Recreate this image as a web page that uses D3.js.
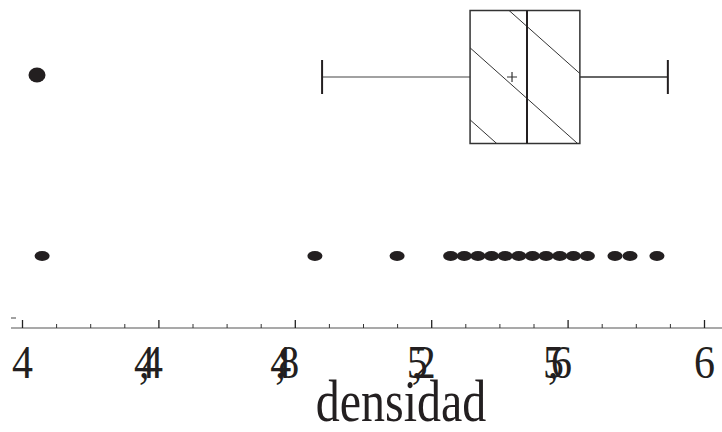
<!DOCTYPE html>
<html>
<head>
<meta charset="utf-8">
<script src="https://cdn.jsdelivr.net/npm/d3@7"></script>
<style>
  body { margin: 0; background: #fff; }
  svg { display: block; }
</style>
</head>
<body>
<svg width="722" height="432"></svg>
<script>
// valores
const rows = ["caja", "puntos"];
const boxSummary = [4.88, 5.314, 5.481, 5.636, 5.894]; // bigote inf, Q1, mediana, Q3, bigote sup
const meanValue = [5.437];
const outliers = [4.044];
const observations = [4.059, 4.859, 5.10, 5.257, 5.297, 5.337, 5.377, 5.417, 5.457, 5.497, 5.537, 5.577, 5.617, 5.658, 5.739, 5.783, 5.862];
const majorTicks = [4, 4.4, 4.8, 5.2, 5.6, 6];
const minorTicks = [4.1, 4.2, 4.3, 4.5, 4.6, 4.7, 4.9, 5.0, 5.1, 5.3, 5.4, 5.5, 5.7, 5.8, 5.9];

const ink = "#231f20";
const serif = "'Liberation Serif', 'Times New Roman', serif";
const svg = d3.select("svg");

const x = d3.scaleLinear().domain([4, 6]).range([22, 704]);
const y = d3.scalePoint().domain(rows).range([77, 256]);
const boxH = 133;

// eje x
const axisY = 328;
svg.append("line")
  .attr("x1", 11).attr("x2", 722)
  .attr("y1", axisY).attr("y2", axisY)
  .attr("stroke", "#555").attr("stroke-width", 1.2);

svg.append("line") // marca suelta del eje y
  .attr("x1", 11).attr("x2", 16)
  .attr("y1", 318).attr("y2", 318)
  .attr("stroke", "#444").attr("stroke-width", 1);

const minorAxis = d3.axisBottom(x).tickValues(minorTicks).tickSize(-4).tickFormat("");
const gMinor = svg.append("g").attr("transform", `translate(0,${axisY})`).call(minorAxis);
gMinor.select(".domain").remove();
gMinor.selectAll(".tick line").attr("stroke", "#333");

const majorAxis = d3.axisBottom(x).tickValues(majorTicks).tickSize(-8).tickFormat("");
const gMajor = svg.append("g").attr("transform", `translate(0,${axisY})`).call(majorAxis);
gMajor.select(".domain").remove();
gMajor.selectAll(".tick line").attr("stroke", "#222").attr("stroke-width", 1.3);

// las etiquetas con coma quedan encimadas como en el original
gMajor.selectAll(".tick").append("text")
  .attr("fill", ink)
  .attr("transform", "translate(0,50) scale(1,1.12)")
  .style("font-family", serif)
  .style("font-size", "42px")
  .each(function(d) {
    const t = d3.select(this);
    if (Number.isInteger(d)) {
      t.attr("text-anchor", "middle").attr("x", 0).text(String(d));
    } else {
      const [a, b] = String(d).split(".");
      t.attr("text-anchor", "start");
      t.append("tspan").attr("x", -25).text(a);
      t.append("tspan").attr("x", -20).text(",");
      t.append("tspan").attr("x", -17).text(b);
    }
  });

svg.append("text")
  .attr("transform", "translate(401,421) scale(1,1.22)")
  .attr("text-anchor", "middle")
  .attr("fill", ink)
  .style("font-family", serif)
  .style("font-size", "48px")
  .text("densidad");

// diagrama de caja
const cy = y("caja");
const [wLo, q1, med, q3, wHi] = boxSummary;
const g = svg.append("g");

g.append("line")
  .attr("x1", x(wLo)).attr("x2", x(q1))
  .attr("y1", cy).attr("y2", cy)
  .attr("stroke", "#444").attr("stroke-width", 1.2);
g.append("line")
  .attr("x1", x(q3)).attr("x2", x(wHi))
  .attr("y1", cy).attr("y2", cy)
  .attr("stroke", "#333").attr("stroke-width", 1.5);
g.selectAll("line.cap")
  .data([wLo, wHi])
  .enter().append("line")
  .attr("class", "cap")
  .attr("x1", d => x(d)).attr("x2", d => x(d))
  .attr("y1", cy - 17).attr("y2", cy + 17)
  .attr("stroke", ink).attr("stroke-width", 2);

// rayado
svg.append("clipPath").attr("id", "clipBox")
  .append("rect")
  .attr("x", x(q1)).attr("y", cy - boxH / 2)
  .attr("width", x(q3) - x(q1)).attr("height", boxH);
const hatch = g.append("g").attr("clip-path", "url(#clipBox)");
const slope = 0.89, gap = 72, startY = cy - boxH / 2 - 34.7;
for (let k = -1; k < 5; k++) {
  const y0 = startY + k * gap;
  hatch.append("line")
    .attr("x1", x(q1)).attr("y1", y0)
    .attr("x2", x(q1) + 200).attr("y2", y0 + 200 * slope)
    .attr("stroke", "#333").attr("stroke-width", 1);
}

g.append("rect")
  .attr("x", x(q1)).attr("y", cy - boxH / 2)
  .attr("width", x(q3) - x(q1)).attr("height", boxH)
  .attr("fill", "none").attr("stroke", "#333").attr("stroke-width", 1.5);

g.append("line")
  .attr("x1", x(med)).attr("x2", x(med))
  .attr("y1", cy - boxH / 2).attr("y2", cy + boxH / 2)
  .attr("stroke", ink).attr("stroke-width", 2);

g.selectAll("path.mean")
  .data(meanValue)
  .enter().append("path")
  .attr("class", "mean")
  .attr("d", d => `M${x(d) - 5},${cy}H${x(d) + 5}M${x(d)},${cy - 5}V${cy + 5}`)
  .attr("stroke", "#333").attr("stroke-width", 1.2);

g.selectAll("ellipse.outlier")
  .data(outliers)
  .enter().append("ellipse")
  .attr("class", "outlier")
  .attr("cx", d => x(d)).attr("cy", cy - 2)
  .attr("rx", 8.5).attr("ry", 7.5)
  .attr("fill", ink);

// puntos
svg.selectAll("ellipse.obs")
  .data(observations)
  .enter().append("ellipse")
  .attr("class", "obs")
  .attr("cx", d => x(d)).attr("cy", y("puntos"))
  .attr("rx", 7.5).attr("ry", 5)
  .attr("fill", ink);
</script>
</body>
</html>
